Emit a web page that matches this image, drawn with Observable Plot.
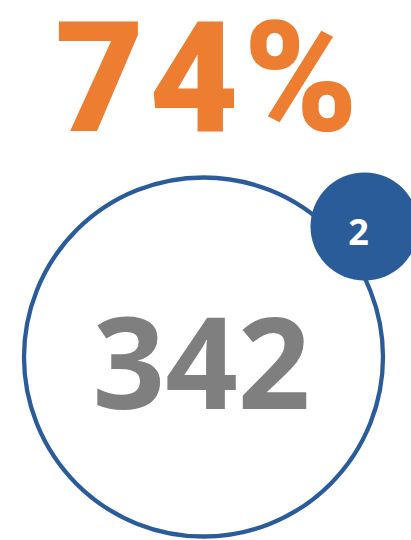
<!DOCTYPE html>
<html>
<head>
<meta charset="utf-8">
<script src="https://cdn.jsdelivr.net/npm/d3@7"></script>
<script src="https://cdn.jsdelivr.net/npm/@observablehq/plot@0.6"></script>
<style>
  html, body { margin: 0; padding: 0; background: #fff; }
  #chart svg { display: block; }
  #chart .headline text { letter-spacing: 5px; }
</style>
</head>
<body>
<div id="chart"></div>
<script>
// Data
const headline = ["74%"];
const totals = [342];
const badges = [2];

const ORANGE = "#ED7D31";
const BLUE = "#2B5C9A";
const GRAY = "#7F7F7F";

const chart = Plot.plot({
  width: 411,
  height: 540,
  margin: 0,
  style: { background: "#fff", overflow: "hidden" },
  marks: [
    // headline percentage
    Plot.text(headline, {
      text: d => d, frameAnchor: "top", dx: 3, dy: 130,
      fontSize: 154, fontWeight: 900, fill: ORANGE,
      fontFamily: "Roboto, Inter, sans-serif", lineAnchor: "bottom",
      className: "headline"
    }),
    // large ring
    Plot.dot(totals, {
      frameAnchor: "middle", dx: -2.5, dy: 86.5, r: 179.5,
      stroke: BLUE, strokeWidth: 4.3, fill: "none"
    }),
    // total
    Plot.text(totals, {
      text: d => String(d), frameAnchor: "middle", dx: -4.5, dy: 98,
      fontSize: 127, fontWeight: 700, fill: GRAY,
      fontFamily: "'Open Sans', sans-serif", lineAnchor: "middle"
    }),
    // badge
    Plot.dot(badges, {
      frameAnchor: "middle", dx: 158.5, dy: -44, r: 54,
      fill: BLUE, stroke: "none"
    }),
    Plot.text(badges, {
      text: d => String(d), frameAnchor: "middle", dx: 152.5, dy: -37,
      fontSize: 36, fontWeight: 700, fill: "#fff",
      fontFamily: "'Open Sans', sans-serif", lineAnchor: "middle"
    })
  ]
});
document.getElementById("chart").appendChild(chart);
</script>
</body>
</html>
